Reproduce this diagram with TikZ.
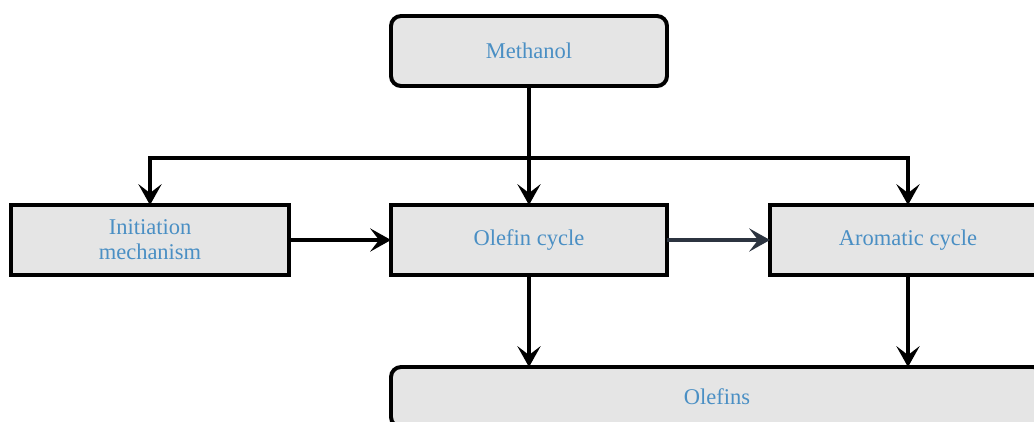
\documentclass[tikz,border=0pt]{standalone}
\usepackage{fontspec}
\setmainfont{Liberation Serif}
\usepackage{tikz}
\usetikzlibrary{calc}
\usetikzlibrary{arrows.meta}
\usetikzlibrary{positioning}
\usepackage{xcolor}

\definecolor{txtblue}{RGB}{74,143,196}
\definecolor{boxgray}{RGB}{229,229,229}
\definecolor{slate}{RGB}{44,52,64}

\tikzset{
  box/.style={draw=black, fill=boxgray, line width=2.8pt, outer sep=0pt,
    minimum width=6.9cm, minimum height=1.75cm, align=center, text=txtblue,
    font=\fontsize{16}{18}\selectfont},
  rbox/.style={box, rounded corners=0.25cm},
  arr/.style={line width=2.6pt, -{Stealth[length=0.52cm, width=0.58cm, inset=0.22cm]}},
}

\begin{document}
\begin{tikzpicture}
   \useasboundingbox (0,0) rectangle (25.85,-10.525);
   \clip (0,0) rectangle (25.85,-10.525);

   \node[box] (olc) at (13.225,-6.0) {Olefin cycle};
   \node[rbox, above=2.975cm of olc] (meth) {Methanol};
   \node[box, left=2.55cm of olc, minimum width=6.95cm] (init) {Initiation\\mechanism};
   \node[box, right=2.575cm of olc] (aro) {Aromatic cycle};
   \node[rbox, below=2.3cm of olc.south west, anchor=north west,
         minimum width=16.3cm, minimum height=1.5cm] (olf) {Olefins};

   \coordinate (bus) at ($(meth.south)+(0,-1.8)$);

   \draw[arr] (meth) -- (olc);
   \draw[arr] (bus) -| (init.north);
   \draw[arr] (bus) -| (aro.north);
   \draw[arr] (init) -- (olc);
   \draw[arr, draw=slate] (olc) -- (aro);
   \draw[arr] (olc.south) -- (olc.south |- olf.north);
   \draw[arr] (aro.south) -- (aro.south |- olf.north);

\end{tikzpicture}
\end{document}
